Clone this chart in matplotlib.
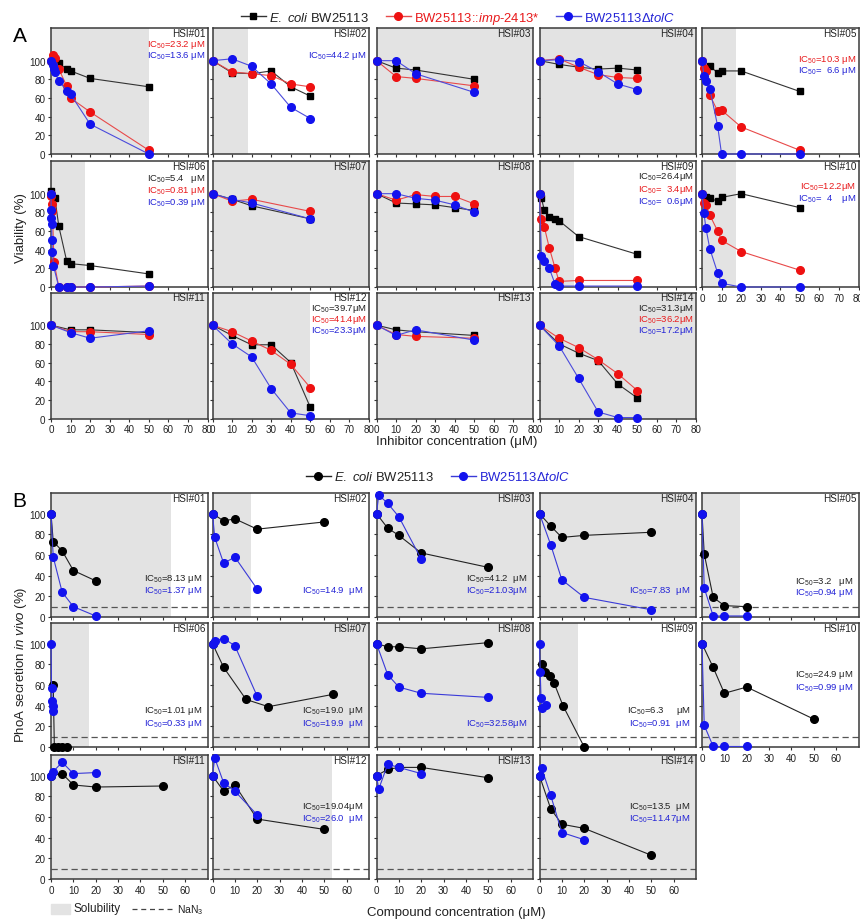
import matplotlib
matplotlib.use("Agg")
import matplotlib.pyplot as plt
from matplotlib.lines import Line2D
from matplotlib.patches import Rectangle

plt.rcParams["font.family"] = ["Liberation Sans", "DejaVu Sans"]
plt.rcParams["mathtext.fontset"] = "custom"
plt.rcParams["mathtext.rm"] = "Liberation Sans"
plt.rcParams["mathtext.it"] = "Liberation Sans:italic"
plt.rcParams["mathtext.bf"] = "Liberation Sans:bold"

# ---------------- Panel A: viability (%) vs inhibitor concentration (uM)
# k = E. coli BW25113, r = BW25113::imp-2413*, b = BW25113 dtolC
A01 = {"k": ([0, 4, 8, 10, 20, 50], [100, 97, 91, 89, 81, 72]),
       "r": ([0, 1, 2, 4, 8, 10, 20, 50], [100, 106, 103, 91, 73, 60, 45, 4]),
       "b": ([0, 1, 1.5, 2, 4, 8, 10, 20, 50], [100, 95, 91, 88, 78, 68, 64, 32, 0])}
A02 = {"k": ([0, 10, 20, 30, 40, 50], [100, 87, 86, 89, 72, 62]),
       "r": ([0, 10, 20, 30, 40, 50], [100, 88, 86, 84, 75, 72]),
       "b": ([0, 10, 20, 30, 40, 50], [100, 102, 94, 75, 50, 38])}
A03 = {"k": ([0, 10, 20, 50], [100, 92, 90, 80]),
       "r": ([0, 10, 20, 50], [100, 83, 81, 73]),
       "b": ([0, 10, 20, 50], [100, 100, 86, 66])}
A04 = {"k": ([0, 10, 20, 30, 40, 50], [100, 96, 93, 91, 92, 90]),
       "r": ([0, 10, 20, 30, 40, 50], [100, 102, 93, 85, 82, 81]),
       "b": ([0, 10, 20, 30, 40, 50], [100, 101, 99, 88, 75, 69])}
A05 = {"k": ([0, 2, 4, 8, 10, 20, 50], [100, 90, 94, 87, 89, 89, 67]),
       "r": ([0, 1, 2, 4, 8, 10, 20, 50], [100, 92, 89, 63, 46, 47, 29, 4]),
       "b": ([0, 1, 2, 4, 8, 10, 20, 50], [100, 84, 78, 70, 30, 0, 0, 0])}
A06 = {"k": ([0, 2, 4, 8, 10, 20, 50], [103, 95, 65, 28, 25, 23, 14]),
       "r": ([0, 0.25, 0.5, 0.75, 1.5, 4, 8, 10, 20, 50], [100, 97, 89, 81, 27, 0, 0, 0, 0, 1]),
       "b": ([0, 0.1, 0.2, 0.3, 0.5, 0.75, 1.2, 4, 8, 10, 20, 50],
             [100, 82, 74, 68, 50, 37, 23, 0, 0, 0, 0, 1])}
A07 = {"k": ([0, 10, 20, 50], [100, 94, 87, 73]),
       "r": ([0, 10, 20, 50], [100, 92, 94, 81]),
       "b": ([0, 10, 20, 50], [100, 94, 90, 73])}
A08 = {"k": ([0, 10, 20, 30, 40, 50], [100, 90, 89, 88, 85, 82]),
       "r": ([0, 10, 20, 30, 40, 50], [100, 93, 99, 97, 97, 89]),
       "b": ([0, 10, 20, 30, 40, 50], [100, 100, 95, 93, 88, 80])}
A09 = {"k": ([0, 1, 2.5, 5, 8, 10, 20, 50], [100, 95, 82, 75, 73, 71, 54, 35]),
       "r": ([0, 1, 2.5, 5, 8, 10, 20, 50], [100, 73, 64, 42, 20, 6, 7, 7]),
       "b": ([0, 1, 2.5, 5, 8, 10, 20, 50], [100, 33, 28, 20, 3, 1, 1, 1])}
A10 = {"k": ([0, 2, 4, 8, 10, 20, 50], [100, 96, 95, 92, 96, 100, 85]),
       "r": ([0, 1, 2, 4, 8, 10, 20, 50], [100, 90, 88, 77, 60, 50, 38, 18]),
       "b": ([0, 1, 2, 4, 8, 10, 20, 50], [100, 79, 63, 41, 15, 4, 0, 0])}
A11 = {"k": ([0, 10, 20, 50], [100, 95, 95, 92]),
       "r": ([0, 10, 20, 50], [100, 93, 93, 90]),
       "b": ([0, 10, 20, 50], [100, 92, 86, 94])}
A12 = {"k": ([0, 10, 20, 30, 40, 50], [100, 89, 79, 79, 60, 12]),
       "r": ([0, 10, 20, 30, 40, 50], [100, 93, 83, 73, 58, 33]),
       "b": ([0, 10, 20, 30, 40, 50], [100, 80, 66, 32, 6, 3])}
A13 = {"k": ([0, 10, 20, 50], [100, 95, 93, 89]),
       "r": ([0, 10, 20, 50], [100, 90, 88, 86]),
       "b": ([0, 10, 20, 50], [100, 89, 95, 84])}
A14 = {"k": ([0, 10, 20, 30, 40, 50], [100, 80, 70, 62, 37, 22]),
       "r": ([0, 10, 20, 30, 40, 50], [100, 86, 76, 63, 48, 30]),
       "b": ([0, 10, 20, 30, 40, 50], [100, 78, 43, 7, 1, 1])}
A_DATA = [A01, A02, A03, A04, A05, A06, A07, A08, A09, A10, A11, A12, A13, A14]
# solubility limit (uM); None = soluble over the whole range
A_SOL = [50, 18, None, None, 17.5, 17.5, None, None, 17.5, 17.5, None, 50, None, None]
A_IC50 = {1: [("r", "23.2 μM"), ("b", "13.6 μM")],
          2: [("b", "44.2 μM")],
          5: [("r", "10.3 μM"), ("b", "  6.6 μM")],
          6: [("k", "5.4   μM"), ("r", "0.81 μM"), ("b", "0.39 μM")],
          9: [("k", "26.4μM"), ("r", "  3.4μM"), ("b", "  0.6μM")],
          10: [("r", "12.2μM"), ("b", "  4    μM")],
          12: [("k", "39.7μM"), ("r", "41.4μM"), ("b", "23.3μM")],
          14: [("k", "31.3μM"), ("r", "36.2μM"), ("b", "17.2μM")]}

# ---------------- Panel B: PhoA secretion in vivo (%) vs compound concentration (uM)
B01 = {"k": ([0, 1, 5, 10, 20], [100, 73, 64, 45, 35]),
       "b": ([0, 1, 5, 10, 20], [100, 58, 24, 10, 1])}
B02 = {"k": ([0, 5, 10, 20, 50], [100, 93, 95, 85, 92]),
       "b": ([0, 1, 5, 10, 20], [100, 77, 52, 58, 27])}
B03 = {"k": ([0, 5, 10, 20, 50], [100, 86, 79, 62, 48]),
       "b": ([0, 1, 5, 10, 20], [100, 118, 110, 97, 56])}
B04 = {"k": ([0, 5, 10, 20, 50], [100, 88, 77, 79, 82]),
       "b": ([0, 5, 10, 20, 50], [100, 70, 36, 19, 7])}
B05 = {"k": ([0, 1, 5, 10, 20], [100, 61, 19, 11, 10]),
       "b": ([0, 1, 5, 10, 20], [100, 28, 1, 1, 1])}
B06 = {"k": ([1, 1.5, 3, 5, 7], [60, 0, 0, 0, 0]),
       "b": ([0, 0.25, 0.5, 0.75, 1], [100, 57, 45, 40, 35])}
B07 = {"k": ([0, 5, 15, 25, 54], [100, 77, 46, 39, 51]),
       "b": ([0, 1, 5, 10, 20], [100, 103, 105, 98, 49])}
B08 = {"k": ([0, 5, 10, 20, 50], [100, 97, 97, 95, 101]),
       "b": ([0, 5, 10, 20, 50], [100, 70, 58, 52, 48])}
B09 = {"k": ([1, 2.5, 4.5, 6.5, 10.5, 20], [80, 73, 69, 62, 40, 0]),
       "b": ([0, 0.3, 0.7, 1.2, 3], [100, 73, 47, 38, 41])}
B10 = {"k": ([0, 5, 10, 20, 50], [100, 77, 52, 58, 27]),
       "b": ([0, 1, 5, 10, 20], [100, 21, 0.5, 0.5, 0.5])}
B11 = {"k": ([0, 5, 10, 20, 50], [100, 102, 91, 89, 90]),
       "b": ([0, 1, 5, 10, 20], [100, 104, 113, 102, 103])}
B12 = {"k": ([0, 5, 10, 20, 50], [100, 85, 91, 58, 48]),
       "b": ([0, 1, 5, 10, 20], [100, 117, 93, 85, 62])}
B13 = {"k": ([0, 5, 10, 20, 50], [100, 106, 108, 108, 98]),
       "b": ([0, 1, 5, 10, 20], [100, 87, 111, 108, 102])}
B14 = {"k": ([0, 5, 10, 20, 50], [100, 68, 53, 49, 23]),
       "b": ([0, 1, 5, 10, 20], [100, 107, 81, 45, 38])}
B_DATA = [B01, B02, B03, B04, B05, B06, B07, B08, B09, B10, B11, B12, B13, B14]
B_SOL = [53.5, 17.2, None, None, 17.2, 17.2, None, None, 17.2, 17.2, None, 53.5, None, None]
NAN3_LEVEL = 10
B_IC50 = {1: [("k", "8.13 μM"), ("b", "1.37 μM")],
          2: [("b", "14.9  μM")],
          3: [("k", "41.2  μM"), ("b", "21.03μM")],
          4: [("b", "7.83  μM")],
          5: [("k", "3.2   μM"), ("b", "0.94 μM")],
          6: [("k", "1.01 μM"), ("b", "0.33 μM")],
          7: [("k", "19.0  μM"), ("b", "19.9  μM")],
          8: [("b", "32.58μM")],
          9: [("k", "6.3     μM"), ("b", "0.91  μM")],
          10: [("k", "24.9 μM"), ("b", "0.99 μM")],
          12: [("k", "19.04μM"), ("b", "26.0  μM")],
          14: [("k", "13.5  μM"), ("b", "11.47μM")]}

# ---------------- styling / layout
W, H = 860, 920
TXT = {"k": "#222222", "r": "#e8191b", "b": "#2323d6"}
A_STYLE = {"k": dict(color="#333333", marker="s", ms=5, mfc="black", mec="black", zorder=3),
           "r": dict(color="#e84a4a", marker="o", ms=5.5, mfc="#ee1111", mec="#ee1111", zorder=4),
           "b": dict(color="#4b4bdc", marker="o", ms=5.5, mfc="#1212ee", mec="#1212ee", zorder=5)}
B_STYLE = {"k": dict(color="#222222", marker="o", ms=5.5, mfc="black", mec="black", zorder=3),
           "b": dict(color="#3a3ad8", marker="o", ms=5.5, mfc="#1212ee", mec="#1212ee", zorder=4)}
SHADE = "#e3e3e3"
COL_LEFT = [51, 212.5, 376.5, 539.5, 702]
PANEL_W = 156.5
A_TOPS, A_H = [29, 162, 293.5], 126
B_TOPS, B_H = [494, 624, 756], 124

HSI_Y = 0.963
A_IC50_Y = {1: [0.872, 0.787], 2: [0.787], 5: [0.75, 0.665], 6: [0.862, 0.767, 0.672],
            9: [0.877, 0.775, 0.68], 10: [0.8, 0.71], 12: [0.875, 0.788, 0.701],
            14: [0.875, 0.788, 0.701]}
B_IC50_Y = {1: [0.315, 0.22], 2: [0.215], 3: [0.315, 0.22], 4: [0.22], 5: [0.29, 0.205],
            6: [0.3, 0.195], 7: [0.3, 0.195], 8: [0.195], 9: [0.3, 0.195],
            10: [0.585, 0.485], 12: [0.59, 0.49], 14: [0.59, 0.49]}

fig = plt.figure(figsize=(W / 100, H / 100), dpi=100)


def add_panel(left, top, h):
    return fig.add_axes([left / W, 1 - (top + h) / H, PANEL_W / W, h / H])


def style_axes(ax, xmax, ymax, xticks, show_x, show_y):
    ax.set_xlim(0, xmax)
    ax.set_ylim(0, ymax)
    ax.set_xticks(xticks)
    ax.set_yticks(range(0, 101, 20))
    ax.tick_params(direction="out", length=2.5, width=0.8, labelsize=7.1, pad=1.5,
                   colors="#333333", labelcolor="#222222")
    if not show_x:
        ax.set_xticklabels([])
    if not show_y:
        ax.set_yticklabels([])
    for sp in ax.spines.values():
        sp.set_color("#3a3a3a")
        sp.set_linewidth(1.1)


def draw(ax, data, styles, sol, xmax):
    ax.axvspan(0, xmax if sol is None else sol, color=SHADE, lw=0, zorder=0)
    for key, (xs, ys) in data.items():
        ax.plot(xs, ys, lw=0.8, clip_on=False, **styles[key])


def label_panel(ax, num, ic50, ic50_y, x_right):
    ax.text(0.985, HSI_Y, f"HSI#{num:02d}", transform=ax.transAxes, ha="right",
            va="center", fontsize=7.2, color="#222222")
    for (key, val), yy in zip(ic50.get(num, []), ic50_y.get(num, [])):
        ax.text(x_right, yy, "IC$_{50}$=" + val, transform=ax.transAxes, ha="right",
                va="center", fontsize=6.8, color=TXT[key])


# ---- panel A
for i, data in enumerate(A_DATA):
    row, col = divmod(i, 5)
    ax = add_panel(COL_LEFT[col], A_TOPS[row], A_H)
    draw(ax, data, A_STYLE, A_SOL[i], 80)
    show_x = row == 2 or (row == 1 and col == 4)
    style_axes(ax, 80, 135, range(0, 81, 10), show_x, col == 0)
    label_panel(ax, i + 1, A_IC50, A_IC50_Y, 0.985)

# ---- panel B
for i, data in enumerate(B_DATA):
    row, col = divmod(i, 5)
    ax = add_panel(COL_LEFT[col], B_TOPS[row], B_H)
    draw(ax, data, B_STYLE, B_SOL[i], 70)
    ax.axhline(NAN3_LEVEL, color="#555555", lw=0.9, ls=(0, (5, 3)), zorder=1)
    show_x = row == 2 or (row == 1 and col == 4)
    style_axes(ax, 70, 120, range(0, 61, 10), show_x, col == 0)
    label_panel(ax, i + 1, B_IC50, B_IC50_Y, 0.965)

# ---- legends
a_handles = [Line2D([], [], lw=1, **A_STYLE[k]) for k in ("k", "r", "b")]
a_labels = [r"$\it{E.}$ $\it{coli}$ BW25113", r"BW25113::$\it{imp}$-$\it{2413}$*",
            r"BW25113Δ$\it{tolC}$"]
leg = fig.legend(a_handles, a_labels, loc="center", bbox_to_anchor=(458 / W, 1 - 19 / H),
                 ncol=3, frameon=False, fontsize=9.4, handlelength=1.9,
                 handletextpad=0.25, columnspacing=1.3)
for t, k in zip(leg.get_texts(), ("k", "r", "b")):
    t.set_color(TXT[k])

b_handles = [Line2D([], [], lw=1, **B_STYLE[k]) for k in ("k", "b")]
b_labels = [r"$\it{E.}$ $\it{coli}$ BW25113", r"BW25113Δ$\it{tolC}$"]
leg = fig.legend(b_handles, b_labels, loc="center", bbox_to_anchor=(438 / W, 1 - 478 / H),
                 ncol=2, frameon=False, fontsize=9.4, handlelength=1.9,
                 handletextpad=0.25, columnspacing=1.3)
for t, k in zip(leg.get_texts(), ("k", "b")):
    t.set_color(TXT[k])

# ---- figure labels
fig.text(20 / W, 1 - 36 / H, "A", fontsize=15, ha="center", va="center")
fig.text(19 / W, 1 - 502 / H, "B", fontsize=15, ha="center", va="center")
fig.text(21 / W, 1 - 228 / H, "Viability (%)", rotation=90, fontsize=9.5,
         ha="center", va="center", color="#222222")
fig.text(21 / W, 1 - 665 / H, r"PhoA secretion $\it{in}$ $\it{vivo}$ (%)", rotation=90,
         fontsize=9.5, ha="center", va="center", color="#222222")
fig.text(457 / W, 1 - 442 / H, "Inhibitor concentration (μM)", fontsize=9.5,
         ha="center", va="center", color="#222222")
fig.text(456 / W, 1 - 913 / H, "Compound concentration (μM)", fontsize=9.5,
         ha="center", va="center", color="#222222")

# bottom key: solubility shade and NaN3 dashed line
fig.patches.append(Rectangle((51 / W, 1 - 915 / H), 19 / W, 10 / H, color=SHADE,
                             transform=fig.transFigure))
fig.text(73 / W, 1 - 909 / H, "Solubility", fontsize=8.5, va="center", color="#222222")
fig.lines.append(Line2D([132 / W, 175 / W], [1 - 910 / H, 1 - 910 / H], color="#444444",
                        lw=0.9, ls=(0, (4, 3)), transform=fig.transFigure))
fig.text(177 / W, 1 - 910 / H, "NaN$_3$", fontsize=7.5, va="center", color="#222222")

fig.savefig("out.png", dpi=100)
